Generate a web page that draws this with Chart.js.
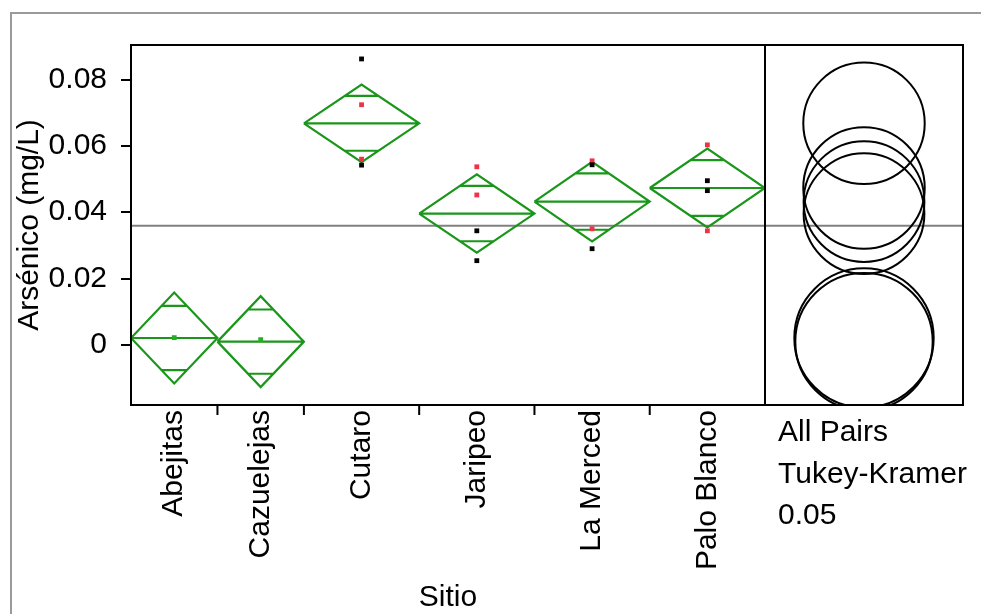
<!DOCTYPE html>
<html>
<head>
<meta charset="utf-8">
<title>Arsénico por sitio</title>
<script src="https://cdn.jsdelivr.net/npm/chart.js@4.4.0/dist/chart.umd.min.js"></script>
<style>
  body { margin: 0; background: #fff; }
  canvas { display: block; }
</style>
</head>
<body>
<canvas id="oneway" width="981" height="614"></canvas>
<script>
// ============================== Datos ==============================
const sitios = ["Abejitas", "Cazuelejas", "Cutaro", "Jaripeo", "La Merced", "Palo Blanco"];
const nObs = [3, 3, 4, 4, 4, 4];                 // ancho de cada segmento del eje x
const medias = [0.0021, 0.0010, 0.0668, 0.0396, 0.0432, 0.0473];
const ic95 = [0.0137, 0.0137, 0.0117, 0.0118, 0.0120, 0.0119];       // media altura del diamante
const radioCirculo = [0.0210, 0.0207, 0.0183, 0.0182, 0.0182, 0.0183];
const mediaGeneral = 0.0359;

const puntosNegros = [[], [], [0.0862, 0.0542], [0.0344, 0.0254], [0.0543, 0.0290], [0.0495, 0.0465]];
const puntosRojos = [[], [], [0.0724, 0.0560], [0.0537, 0.0452], [0.0555, 0.0350], [0.0603, 0.0344]];
const puntosVerdes = [[0.0022], [0.0016], [], [], [], []];

const yTicks = [0, 0.02, 0.04, 0.06, 0.08];
const yTickLabels = ["0", "0.02", "0.04", "0.06", "0.08"];
const yMin = -0.0181, yMax = 0.0904;
const panelLabels = ["All Pairs", "Tukey-Kramer", "0.05"];

// ============================== Helpers ==============================
const font = { family: "'Liberation Sans', Arial, sans-serif", size: 30 };
const VERDE = "#1a961a";
const PANEL_W = 198;

const bordes = [0];
nObs.forEach(n => bordes.push(bordes[bordes.length - 1] + n));
const centros = nObs.map((n, i) => bordes[i] + n / 2);

function diamante(i) {
    const a = bordes[i], b = bordes[i + 1], c = centros[i];
    const m = medias[i], h = ic95[i];
    const d = h / Math.SQRT2;                          // marcas de solapamiento
    const w = (nObs[i] / 2) * (1 - 1 / Math.SQRT2);
    const gap = { x: c, y: null };
    return [
        { x: a, y: m }, { x: c, y: m + h }, { x: b, y: m }, { x: c, y: m - h }, { x: a, y: m }, gap,
        { x: a, y: m }, { x: b, y: m }, gap,
        { x: c - w, y: m + d }, { x: c + w, y: m + d }, gap,
        { x: c - w, y: m - d }, { x: c + w, y: m - d }
    ];
}

function puntos(lista) {
    return lista.flatMap((vals, i) => vals.map(v => ({ x: centros[i], y: v })));
}

function puntoDs(lista, color) {
    return {
        data: puntos(lista), showLine: false, pointStyle: "rect",
        pointRadius: 3.4, pointBorderWidth: 0, pointBackgroundColor: color, order: 0
    };
}

const datasets = sitios.map((s, i) => ({
    label: s, data: diamante(i), showLine: true, spanGaps: false,
    borderColor: VERDE, borderWidth: 2.2, pointRadius: 0, fill: false, order: 1
}));
datasets.push(puntoDs(puntosNegros, "#000000"));
datasets.push(puntoDs(puntosRojos, "#ee3348"));
datasets.push(puntoDs(puntosVerdes, "#22b022"));

// ============================== Marco, circulos y textos ==============================
const marcoJMP = {
    id: "marcoJMP",
    beforeDraw(chart) {
        const ctx = chart.ctx;
        ctx.save();
        ctx.strokeStyle = "#9a9a9a";
        ctx.lineWidth = 2;
        ctx.beginPath();
        ctx.moveTo(11, chart.height);
        ctx.lineTo(11, 13);
        ctx.lineTo(chart.width, 13);
        ctx.stroke();
        ctx.restore();
    },
    beforeDatasetsDraw(chart) {
        const { ctx, chartArea: area, scales } = chart;
        const y = scales.y.getPixelForValue(mediaGeneral);
        ctx.save();
        ctx.strokeStyle = "#808080";
        ctx.lineWidth = 2;
        ctx.beginPath();
        ctx.moveTo(area.left, y);
        ctx.lineTo(area.right + PANEL_W, y);
        ctx.stroke();
        ctx.restore();
    },
    afterDraw(chart) {
        const { ctx, chartArea: area, scales } = chart;
        const right = area.right + PANEL_W;
        ctx.save();
        ctx.strokeStyle = "#000";
        ctx.lineWidth = 2;
        ctx.strokeRect(area.left, area.top, right - area.left, area.bottom - area.top);
        ctx.beginPath();
        ctx.moveTo(area.right, area.top);
        ctx.lineTo(area.right, area.bottom);
        // ticks entre grupos
        bordes.slice(1, -1).forEach(b => {
            const x = scales.x.getPixelForValue(b);
            ctx.moveTo(x, area.bottom);
            ctx.lineTo(x, area.bottom + 10);
        });
        ctx.stroke();

        // circulos de comparacion
        ctx.beginPath();
        ctx.rect(area.right, area.top, PANEL_W, area.bottom - area.top);
        ctx.clip();
        const cx = area.right + PANEL_W / 2;
        medias.forEach((m, i) => {
            const cy = scales.y.getPixelForValue(m);
            const r = Math.abs(scales.y.getPixelForValue(m + radioCirculo[i]) - cy);
            ctx.beginPath();
            ctx.arc(cx, cy, r, 0, 2 * Math.PI);
            ctx.stroke();
        });
        ctx.restore();

        ctx.save();
        ctx.fillStyle = "#000";
        ctx.font = font.size + "px " + font.family;
        ctx.textAlign = "left";
        ctx.textBaseline = "alphabetic";
        panelLabels.forEach((t, i) => ctx.fillText(t, area.right + 13, area.bottom + 36 + i * 41.5));
        ctx.restore();
    }
};

// ============================== Chart ==============================
new Chart(document.getElementById("oneway").getContext("2d"), {
    type: "scatter",
    data: { datasets: datasets },
    options: {
        responsive: false,
        animation: false,
        layout: { padding: { top: 45, right: 216, bottom: 0, left: 0 } },
        plugins: { legend: { display: false }, tooltip: { enabled: false } },
        scales: {
            x: {
                type: "linear", min: 0, max: bordes[bordes.length - 1],
                afterBuildTicks: s => { s.ticks = centros.map(v => ({ value: v })); },
                afterFit: s => { s.height = 209; },
                ticks: {
                    callback: (v, i) => sitios[i], autoSkip: false,
                    maxRotation: 90, minRotation: 90, font: font, color: "#000", padding: -3
                },
                grid: { display: false },
                border: { display: false },
                title: { display: true, text: "Sitio", font: font, color: "#000", padding: { top: 0, bottom: -2 } }
            },
            y: {
                type: "linear", min: yMin, max: yMax,
                afterBuildTicks: s => { s.ticks = yTicks.map(v => ({ value: v })); },
                afterFit: s => { s.width = 131; },
                ticks: { callback: (v, i) => yTickLabels[i], font: font, color: "#000", padding: 14 },
                grid: { drawOnChartArea: false, drawTicks: true, tickLength: 10, color: "#000", lineWidth: 2 },
                border: { display: false },
                title: { display: true, text: "Arsénico (mg/L)", font: font, color: "#000", padding: { top: 12, bottom: 0 } }
            }
        }
    },
    plugins: [marcoJMP]
});
</script>
</body>
</html>
